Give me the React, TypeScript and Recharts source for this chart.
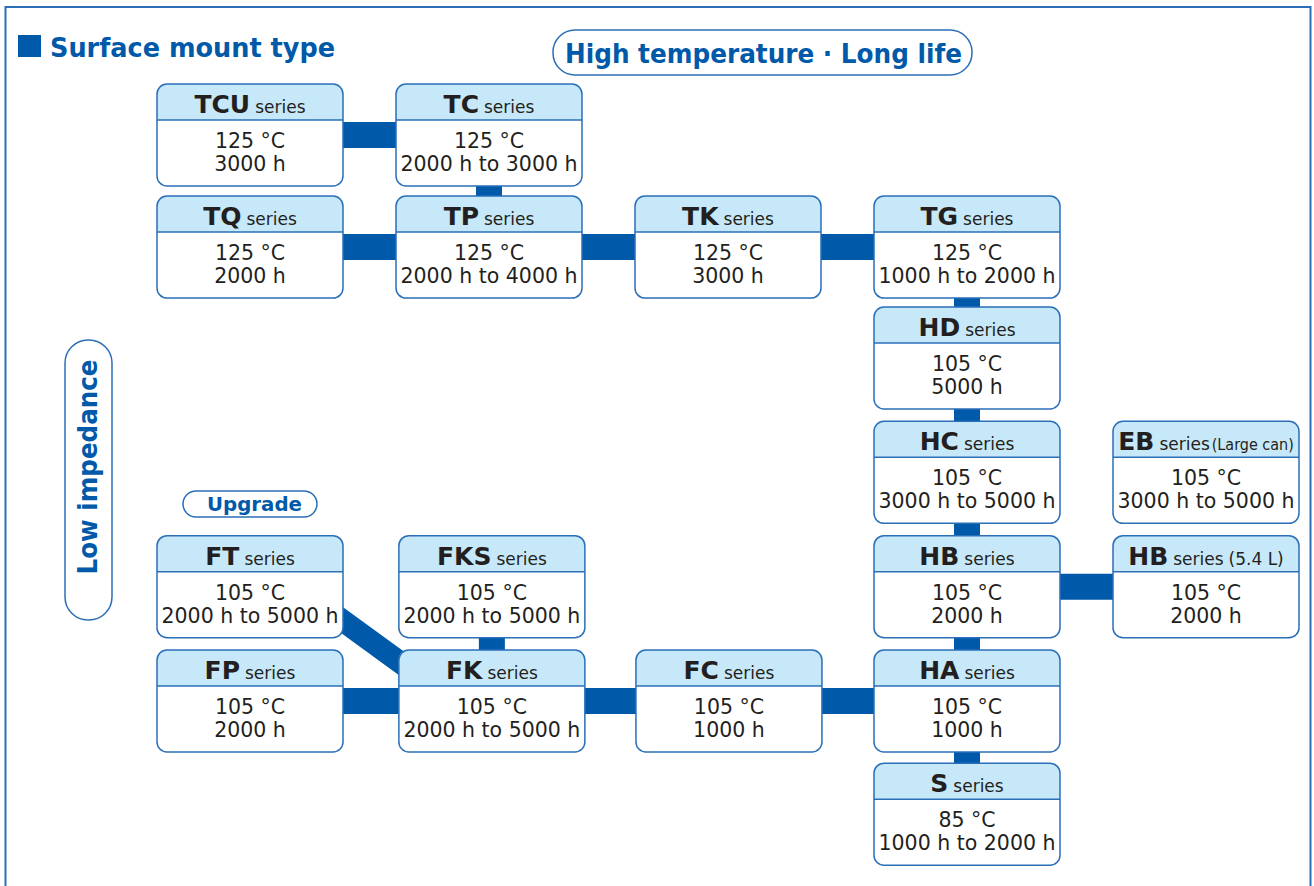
import React from "react";
import { ScatterChart, Scatter, XAxis, YAxis, ReferenceLine } from "recharts";

const BLUE = "#0059a9";
const EDGE = "#2a6fb8";
const HEAD = "#c7e8f8";
const INK = "#231f20";
const FONT = "'DejaVu Sans', Verdana, sans-serif";

// series on a column / row grid
const names = ["TCU", "TC", "TQ", "TP", "TK", "TG", "HD", "HC", "EB", "FT", "FKS", "HB", "HB", "FP", "FK", "FC", "HA", "S"];
const cols = [0, 1, 0, 1, 2, 3, 3, 3, 4, 0, 1.012, 3, 4, 0, 1.012, 2.004, 3, 3];
const rows = [0, 0, 0.99, 0.99, 0.99, 0.99, 1.97, 2.98, 2.98, 3.99, 3.99, 3.99, 3.99, 5, 5, 5, 5, 6];
const temps = [
  "125 °C", "125 °C", "125 °C", "125 °C", "125 °C", "125 °C",
  "105 °C", "105 °C", "105 °C", "105 °C", "105 °C", "105 °C",
  "105 °C", "105 °C", "105 °C", "105 °C", "105 °C", "85 °C",
];
const hours = [
  "3000 h", "2000 h to 3000 h", "2000 h", "2000 h to 4000 h", "3000 h", "1000 h to 2000 h",
  "5000 h", "3000 h to 5000 h", "3000 h to 5000 h", "2000 h to 5000 h", "2000 h to 5000 h", "2000 h",
  "2000 h", "2000 h", "2000 h to 5000 h", "1000 h", "1000 h", "1000 h to 2000 h",
];
const notes = ["", "", "", "", "", "", "", "", "(Large can)", "", "", "", "(5.4 L)", "", "", "", "", ""];

// connections between series (indexes into the arrays above)
const links: [number, number][] = [
  [0, 1], [1, 3], [2, 3], [3, 4], [4, 5], [5, 6], [6, 7], [7, 11],
  [11, 12], [11, 16], [16, 17], [10, 14], [13, 14], [14, 15], [15, 16],
];
// FT -> FK upgrade path (estimated end points)
const upgradeLink = [
  { col: 0.2, row: 4 },
  { col: 0.85, row: 5 },
];

const nodes = names.map((name, i) => ({
  name,
  col: cols[i],
  row: rows[i],
  temp: temps[i],
  hours: hours[i],
  note: notes[i],
}));

const W = 1314;
const H = 886;
const BOX_W = 186;
const BOX_H = 102;

function NodeBox(props: any) {
  const { cx, cy, payload } = props;
  if (cx == null || cy == null) return null;
  const x0 = cx - BOX_W / 2;
  const y0 = cy - BOX_H / 2;
  const r = 10;
  const hh = 36;
  const head = `M${x0},${y0 + hh} L${x0},${y0 + r} Q${x0},${y0} ${x0 + r},${y0} L${x0 + BOX_W - r},${y0} Q${x0 + BOX_W},${y0} ${x0 + BOX_W},${y0 + r} L${x0 + BOX_W},${y0 + hh} Z`;
  const large = payload.note === "(Large can)";
  return (
    <g fontFamily={FONT}>
      <rect x={x0} y={y0} width={BOX_W} height={BOX_H} rx={r} ry={r} fill="#fff" />
      <path d={head} fill={HEAD} />
      <line x1={x0} x2={x0 + BOX_W} y1={y0 + hh} y2={y0 + hh} stroke={EDGE} strokeWidth={1.5} />
      <rect x={x0} y={y0} width={BOX_W} height={BOX_H} rx={r} ry={r} fill="none" stroke={EDGE} strokeWidth={1.5} />
      <text x={cx} y={y0 + 29} textAnchor="middle" fill={INK}>
        <tspan fontWeight="bold" fontSize={25}>{payload.name}</tspan>
        <tspan fontSize={17} dx={5}>series</tspan>
        {payload.note && large && (
          <tspan fontSize={16} dx={2} textLength={82} lengthAdjust="spacingAndGlyphs">{payload.note}</tspan>
        )}
        {payload.note && !large && (
          <tspan fontSize={17} dx={5}>{payload.note}</tspan>
        )}
      </text>
      <text x={cx} y={y0 + 64} textAnchor="middle" fontSize={20.5} fill={INK}>{payload.temp}</text>
      <text x={cx} y={y0 + 87} textAnchor="middle" fontSize={20.5} fill={INK}>{payload.hours}</text>
    </g>
  );
}

function Labels() {
  return (
    <svg width={W} height={H} style={{ position: "absolute", left: 0, top: 0, pointerEvents: "none" }} fontFamily={FONT}>
      <rect x={5.5} y={7} width={1305} height={920} fill="none" stroke={EDGE} strokeWidth={2} />
      <rect x={18} y={35} width={23} height={22} fill={BLUE} />
      <text x={50} y={57} fontSize={26} fontWeight="bold" fill={BLUE} textLength={285} lengthAdjust="spacingAndGlyphs">
        Surface mount type
      </text>
      <rect x={553} y={30} width={419} height={45} rx={22} fill="none" stroke={EDGE} strokeWidth={1.5} />
      <text x={763.5} y={63} textAnchor="middle" fontSize={26} fontWeight="bold" fill={BLUE} textLength={397} lengthAdjust="spacingAndGlyphs">
        High temperature · Long life
      </text>
      <rect x={65} y={340} width={47} height={280} rx={23} fill="none" stroke={EDGE} strokeWidth={1.5} />
      <text transform="translate(97,467) rotate(-90)" textAnchor="middle" fontSize={26} fontWeight="bold" fill={BLUE} textLength={215} lengthAdjust="spacingAndGlyphs">
        Low impedance
      </text>
      <rect x={183} y={491} width={134} height={26} rx={13} fill="none" stroke={EDGE} strokeWidth={1.5} />
      <text x={254.5} y={511} textAnchor="middle" fontSize={20} fontWeight="bold" fill={BLUE} textLength={95} lengthAdjust="spacingAndGlyphs">
        Upgrade
      </text>
    </svg>
  );
}

export default function App() {
  return (
    <div style={{ position: "absolute", left: 0, top: 0, width: W, height: H, background: "#fff" }}>
      <ScatterChart width={W} height={H} margin={{ top: 0, right: 0, bottom: 0, left: 0 }}>
        <XAxis type="number" dataKey="col" domain={[-250 / 239, (W - 250) / 239]} allowDataOverflow hide />
        <YAxis type="number" dataKey="row" domain={[-135 / 113.2, (H - 135) / 113.2]} allowDataOverflow reversed hide />
        <ReferenceLine
          segment={[
            { x: upgradeLink[0].col, y: upgradeLink[0].row },
            { x: upgradeLink[1].col, y: upgradeLink[1].row },
          ]}
          stroke={BLUE}
          strokeWidth={22}
          ifOverflow="visible"
        />
        {links.map(([a, b], i) => (
          <ReferenceLine
            key={i}
            segment={[
              { x: cols[a], y: rows[a] },
              { x: cols[b], y: rows[b] },
            ]}
            stroke={BLUE}
            strokeWidth={26}
            ifOverflow="visible"
          />
        ))}
        <Scatter data={nodes} isAnimationActive={false} shape={(p: any) => <NodeBox {...p} />} />
      </ScatterChart>
      <Labels />
    </div>
  );
}
